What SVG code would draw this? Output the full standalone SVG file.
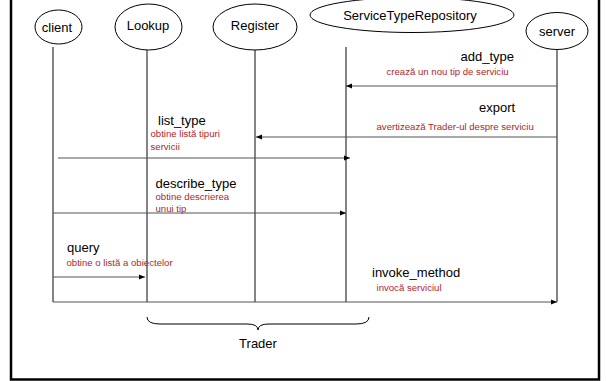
<svg xmlns="http://www.w3.org/2000/svg" width="606" height="381" viewBox="0 0 606 381">
<style>
.name{font-family:"Liberation Sans",Arial,sans-serif;font-size:13px;fill:#000;text-anchor:middle}
.lbl{font-family:"Liberation Sans",Arial,sans-serif;font-size:13px;fill:#000}
.red{font-family:"Liberation Sans",Arial,sans-serif;font-size:9.6px;fill:#b3262b}
.ell{fill:#fff;stroke:#000;stroke-width:1}
.life{stroke:#333;stroke-width:1.2;fill:none}
.msg{stroke:#555;stroke-width:1.2;fill:none;marker-end:url(#ah)}
</style>
<defs>
<marker id="ah" viewBox="0 0 6 6" refX="6" refY="3" markerWidth="6" markerHeight="6" markerUnits="userSpaceOnUse" orient="auto">
<path d="M0,0.5 L6,3 L0,5.5 z" fill="#000"/>
</marker>
</defs>
<rect width="606" height="381" fill="#fff"/>
<path d="M11,0 V379.5 H599 V0" fill="none" stroke="#000" stroke-width="2.5"/>
<g id="lifelines">
<line class="life" x1="53" y1="47" x2="53" y2="302"/>
<line class="life" x1="147" y1="50" x2="147" y2="302"/>
<line class="life" x1="255" y1="50" x2="255" y2="302"/>
<line class="life" x1="346" y1="47" x2="346" y2="302"/>
<line class="life" x1="557" y1="50" x2="557" y2="302"/>
</g>
<g id="client"><ellipse class="ell" cx="58.5" cy="27" rx="23.5" ry="17"/><text class="name" x="57" y="31.5">client</text></g>
<g id="lookup"><ellipse class="ell" cx="148.5" cy="27" rx="33.5" ry="23"/><text class="name" x="148" y="29.5">Lookup</text></g>
<g id="register"><ellipse class="ell" cx="255" cy="27" rx="42" ry="23"/><text class="name" x="255" y="29.5">Register</text></g>
<g id="servicetyperepository"><ellipse class="ell" cx="412" cy="15" rx="102" ry="17.5"/><text class="name" x="410" y="19.5">ServiceTypeRepository</text></g>
<g id="server"><ellipse class="ell" cx="557" cy="31" rx="31" ry="18.5"/><text class="name" x="557" y="35.5">server</text></g>
<g id="connectors">
<line class="msg" x1="557" y1="86" x2="346" y2="86"/>
<line class="msg" x1="557" y1="137" x2="256" y2="137"/>
<line class="msg" x1="58" y1="158" x2="350" y2="158"/>
<line class="msg" x1="53" y1="213" x2="346" y2="213"/>
<line class="msg" x1="53" y1="277" x2="145" y2="277"/>
<line class="msg" x1="53" y1="302" x2="557" y2="302"/>
</g>
<g id="labels">
<text class="lbl" x="460.5" y="61">add_type</text>
<text class="red" x="386.5" y="75">crează un nou tip de serviciu</text>
<text class="lbl" x="479" y="112">export</text>
<text class="red" x="376.5" y="130">avertizează Trader-ul despre serviciu</text>
<text class="lbl" x="158" y="125">list_type</text>
<text class="red" x="150.5" y="137">obtine listă tipuri</text>
<text class="red" x="150.5" y="149.5">servicii</text>
<text class="lbl" x="155.5" y="188">describe_type</text>
<text class="red" x="155.5" y="200">obtine descrierea</text>
<text class="red" x="155.5" y="212">unui tip</text>
<text class="lbl" x="67" y="252">query</text>
<text class="red" x="66.5" y="266">obtine o listă a obiectelor</text>
<text class="lbl" x="372" y="277">invoke_method</text>
<text class="red" x="376.5" y="291">invocă serviciul</text>
</g>
<g id="trader">
<path d="M147,317 Q147,324 160,324 L247,324 Q258,324 258,330 Q258,324 269,324 L356,324 Q369,324 369,317" fill="none" stroke="#000" stroke-width="1"/>
<text class="name" x="258" y="348">Trader</text>
</g>
</svg>
